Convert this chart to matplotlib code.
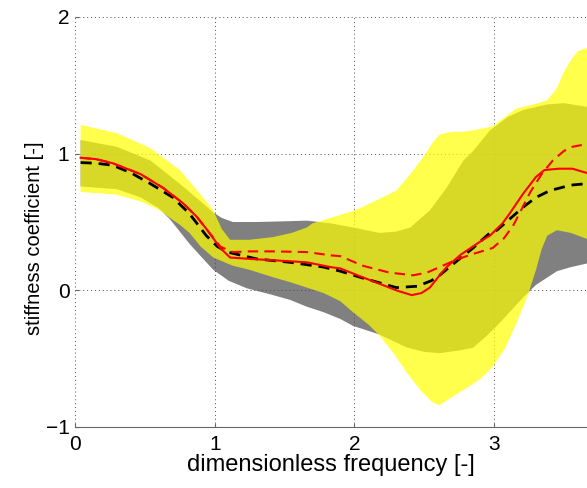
import numpy as np
import matplotlib
matplotlib.use("Agg")
import matplotlib.pyplot as plt

plt.rcParams["font.family"] = ["Liberation Sans", "DejaVu Sans"]

# yellow band (upper / lower edge)
yel_up_x = [0.04, 0.3, 0.54, 0.75, 0.9, 0.99, 1.05, 1.11, 1.25, 1.42, 1.55, 1.66, 1.70, 1.83,
            1.99, 2.06, 2.18, 2.30, 2.40, 2.49, 2.56, 2.61, 2.70, 2.78, 2.85, 2.99, 3.08, 3.16,
            3.28, 3.38, 3.45, 3.50, 3.56, 3.60, 3.68]
yel_up_y = [1.21, 1.15, 1.04, 0.88, 0.70, 0.585, 0.45, 0.37, 0.37, 0.39, 0.42, 0.46, 0.49, 0.53,
            0.58, 0.61, 0.67, 0.73, 0.85, 0.97, 1.08, 1.14, 1.16, 1.16, 1.17, 1.20, 1.27, 1.33,
            1.36, 1.39, 1.48, 1.60, 1.70, 1.75, 1.78]
yel_lo_x = [0.04, 0.3, 0.47, 0.60, 0.68, 0.75, 0.82, 0.90, 0.99, 1.13, 1.25, 1.42, 1.54, 1.66,
            1.78, 1.90, 1.99, 2.10, 2.17, 2.28, 2.38, 2.48, 2.56, 2.61, 2.70, 2.78, 2.90, 2.99,
            3.08, 3.16, 3.24, 3.30, 3.34, 3.38, 3.45, 3.55, 3.68]
yel_lo_y = [0.72, 0.70, 0.65, 0.59, 0.53, 0.48, 0.42, 0.32, 0.24, 0.18, 0.15, 0.095, 0.06, 0.02,
            -0.02, -0.08, -0.16, -0.25, -0.32, -0.46, -0.61, -0.74, -0.82, -0.84, -0.78, -0.73,
            -0.65, -0.56, -0.42, -0.24, -0.04, 0.15, 0.30, 0.40, 0.44, 0.42, 0.37]

# gray band (upper / lower edge)
gry_up_x = [0.04, 0.3, 0.54, 0.75, 0.90, 0.99, 1.05, 1.13, 1.30, 1.50, 1.66, 1.83, 1.99, 2.18,
            2.30, 2.40, 2.54, 2.66, 2.78, 2.85, 2.97, 3.10, 3.21, 3.38, 3.50, 3.68]
gry_up_y = [1.10, 1.05, 0.95, 0.78, 0.65, 0.57, 0.53, 0.50, 0.50, 0.505, 0.51, 0.49, 0.46, 0.42,
            0.43, 0.46, 0.585, 0.75, 0.95, 1.02, 1.17, 1.27, 1.32, 1.36, 1.37, 1.34]
gry_lo_x = [0.04, 0.3, 0.47, 0.60, 0.68, 0.75, 0.82, 0.90, 0.99, 1.10, 1.23, 1.40, 1.54, 1.66,
            1.78, 1.90, 1.99, 2.17, 2.38, 2.50, 2.61, 2.75, 2.85, 2.95, 3.02, 3.12, 3.21, 3.30,
            3.45, 3.55, 3.68]
gry_lo_y = [0.76, 0.74, 0.68, 0.60, 0.52, 0.43, 0.34, 0.25, 0.15, 0.07, 0.015, -0.03, -0.07,
            -0.12, -0.16, -0.21, -0.26, -0.32, -0.42, -0.45, -0.46, -0.44, -0.42, -0.33, -0.26,
            -0.15, -0.05, 0.04, 0.14, 0.17, 0.20]

# mean curve (black dashed)
mean_x = [0.04, 0.15, 0.27, 0.40, 0.54, 0.70, 0.82, 0.94, 1.02, 1.09, 1.30, 1.54, 1.78, 1.90,
          2.06, 2.30, 2.45, 2.55, 2.61, 2.68, 2.85, 2.97, 3.02, 3.21, 3.30, 3.40, 3.55, 3.66]
mean_y = [0.935, 0.93, 0.915, 0.86, 0.78, 0.68, 0.56, 0.40, 0.32, 0.28, 0.23, 0.205, 0.17, 0.14,
          0.09, 0.02, 0.03, 0.07, 0.11, 0.17, 0.31, 0.42, 0.44, 0.61, 0.68, 0.73, 0.77, 0.78]

# red solid
red_x = [0.04, 0.15, 0.27, 0.47, 0.63, 0.77, 0.87, 0.94, 1.04, 1.11, 1.25, 1.42, 1.66, 1.83,
         1.90, 2.06, 2.20, 2.30, 2.41, 2.48, 2.54, 2.61, 2.66, 2.76, 2.92, 2.97, 3.06, 3.11,
         3.21, 3.24, 3.30, 3.36, 3.46, 3.56, 3.66]
red_y = [0.97, 0.96, 0.93, 0.85, 0.75, 0.64, 0.54, 0.45, 0.31, 0.24, 0.23, 0.22, 0.205, 0.17,
         0.16, 0.095, 0.04, 0.0, -0.035, -0.02, 0.02, 0.11, 0.17, 0.26, 0.37, 0.40, 0.49, 0.56,
         0.71, 0.75, 0.83, 0.88, 0.89, 0.89, 0.86]

# red dashed
redd_x = [0.04, 0.15, 0.27, 0.47, 0.63, 0.77, 0.87, 0.94, 1.04, 1.13, 1.25, 1.42, 1.66, 1.83,
          1.90, 2.06, 2.25, 2.42, 2.52, 2.61, 2.72, 2.83, 2.99, 3.07, 3.14, 3.26, 3.34, 3.42,
          3.50, 3.56, 3.66]
redd_y = [0.97, 0.96, 0.93, 0.85, 0.75, 0.64, 0.54, 0.45, 0.32, 0.28, 0.285, 0.285, 0.28, 0.256,
          0.25, 0.18, 0.13, 0.11, 0.13, 0.17, 0.22, 0.26, 0.31, 0.38, 0.48, 0.72, 0.85, 0.95,
          1.02, 1.05, 1.07]


def band(x_up, y_up, x_lo, y_lo):
    return (np.concatenate([x_up, x_lo[::-1]]), np.concatenate([y_up, y_lo[::-1]]))


fig = plt.figure(figsize=(5.87, 4.88), dpi=100)
ax = fig.add_axes([75 / 587, 61 / 488, 512 / 587, 410 / 488])

gx, gy = band(gry_up_x, gry_up_y, gry_lo_x, gry_lo_y)
ax.fill(gx, gy, color=(0.5, 0.5, 0.5), lw=0, zorder=1)
yx, yy = band(yel_up_x, yel_up_y, yel_lo_x, yel_lo_y)
ax.fill(yx, yy, color=(1, 1, 0), alpha=0.7, lw=0, zorder=2)

ax.plot(mean_x, mean_y, color="black", ls=(0, (4, 2.5)), lw=2, zorder=3)
ax.plot(redd_x, redd_y, color="red", ls=(0, (5, 3)), lw=1.5, zorder=4)
ax.plot(red_x, red_y, color="red", lw=1.5, zorder=5)

ax.set_xlim(0, 3.665)
ax.set_ylim(-1, 2)
ax.set_xticks([0, 1, 2, 3])
ax.set_yticks([-1, 0, 1, 2])
ax.grid(True, ls=(0, (1, 3)), color="0.3", lw=0.7)
ax.tick_params(direction="in", length=3, width=0.8, color="0.4", labelsize=15)
ax.tick_params(axis="y", pad=4)
ax.tick_params(axis="x", pad=6)
for s in ["top", "right", "left"]:
    ax.spines[s].set_visible(False)
ax.spines["bottom"].set_color("0.4")
ax.set_xlabel("dimensionless frequency [-]", fontsize=17, labelpad=0)
ax.set_ylabel("stiffness coefficient [-]", fontsize=14.5, labelpad=1)
ax.yaxis.label.set_y(0.46)

fig.savefig("out.png", dpi=100)
